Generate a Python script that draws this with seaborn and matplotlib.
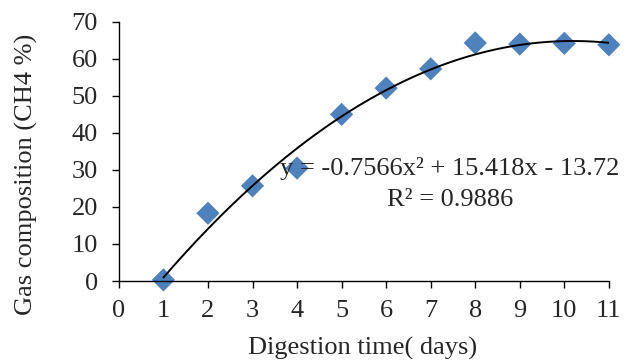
import numpy as np
import pandas as pd
import matplotlib
matplotlib.use("Agg")
import matplotlib.pyplot as plt
import seaborn as sns

# Digestion time vs CH4 composition
days = [1, 2, 3, 4, 5, 6, 7, 8, 9, 10, 11]
ch4_percent = [0.3, 18.3, 25.7, 30.5, 45.0, 52.1, 57.3, 64.3, 64.0, 64.2, 63.8]

# Polynomial trendline coefficients (x^2, x, const)
trend_coef = [-0.7566, 15.418, -13.72]
trend_label = "y = -0.7566x² + 15.418x - 13.72"
r2_label = "R² = 0.9886"

x_ticks = list(range(0, 12))
y_ticks = list(range(0, 80, 10))

sns.set_style("ticks")
plt.rcParams["font.family"] = ["Liberation Serif", "DejaVu Serif"]

df = pd.DataFrame({"days": days, "ch4": ch4_percent})
fit_x = np.linspace(min(days), max(days), 200)
fit_df = pd.DataFrame({"days": fit_x, "ch4": np.polyval(trend_coef, fit_x)})

fig = plt.figure(figsize=(6.29, 3.64), dpi=100)
ax = fig.add_axes([0.189, 0.228, 0.779, 0.712])

sns.lineplot(data=fit_df, x="days", y="ch4", color="black", linewidth=1.4, ax=ax, zorder=3)
sns.scatterplot(data=df, x="days", y="ch4", marker="D", s=140, color="#4F81BD",
                edgecolor="none", ax=ax, zorder=2, clip_on=False)

ax.set_xlim(0, 11)
ax.set_ylim(0, 70)
ax.set_xticks(x_ticks)
ax.set_yticks(y_ticks)
ax.tick_params(labelsize=19, length=5, width=1, color="black", direction="out")
ax.tick_params(axis="y", pad=10)
ax.tick_params(axis="x", pad=9)
ax.set_xlabel("Digestion time( days)", fontsize=19)
ax.set_ylabel("Gas composition (CH4 %)", fontsize=19)
ax.xaxis.set_label_coords(0.498, -0.215)
ax.yaxis.set_label_coords(-0.165, 0.41)
for side in ["left", "bottom"]:
    ax.spines[side].set_linewidth(1)
    ax.spines[side].set_color("black")
sns.despine(ax=ax)

ax.text(7.43, 30.5, trend_label, fontsize=19, ha="center", va="center", zorder=4)
ax.text(7.43, 21.9, r2_label, fontsize=19, ha="center", va="center", zorder=4)

for lbl in ax.get_xticklabels() + ax.get_yticklabels():
    lbl.set_clip_on(False)

fig.savefig("out.png", dpi=100)
